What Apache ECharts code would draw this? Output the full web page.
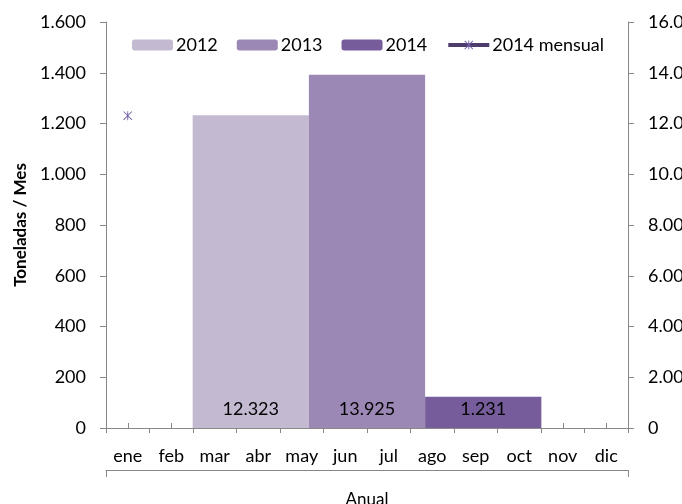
<!DOCTYPE html>
<html>
<head>
<meta charset="utf-8">
<script src="https://cdn.jsdelivr.net/npm/echarts@6/dist/echarts.min.js"></script>
<style>
  html, body { margin: 0; padding: 0; background: #fff; }
  #chart { width: 682px; height: 504px; }
</style>
</head>
<body>
<div id="chart"></div>
<script>
// datos
const meses = ['ene', 'feb', 'mar', 'abr', 'may', 'jun', 'jul', 'ago', 'sep', 'oct', 'nov', 'dic'];
const anual = ['Anual'];
const total2012 = [12323];
const total2013 = [13925];
const total2014 = [1231];
const mensual2014 = [1231, null, null, null, null, null, null, null, null, null, null, null];

const font = 'Lato';
const gris = '#888888';

// separador de miles con punto
function fmt(v) {
  return String(v).replace(/\B(?=(\d{3})+(?!\d))/g, '.');
}

const asterisco = 'path://M9,0 L11,0 L11,20 L9,20 Z M0,1.4 L1.4,0 L20,18.6 L18.6,20 Z M18.6,0 L20,1.4 L1.4,20 L0,18.6 Z';

const chart = echarts.init(document.getElementById('chart'), null, { renderer: 'canvas' });

const barLabel = {
  show: true,
  position: 'insideBottom',
  distance: 10,
  color: '#000',
  fontFamily: font,
  fontSize: 18,
  formatter: p => fmt(p.value)
};

const option = {
  animation: false,
  textStyle: { fontFamily: font },
  legend: {
    left: 127,
    top: 31,
    itemWidth: 41,
    itemHeight: 11,
    itemGap: 19,
    lineStyle: { width: 4 },
    textStyle: { fontFamily: font, fontSize: 18, color: '#000', padding: [0, 0, 0, -2] },
    data: ['2012', '2013', '2014', '2014 mensual']
  },
  grid: {
    left: 106,
    right: 54,
    top: 22,
    bottom: 76,
    outerBoundsMode: 'none'
  },
  xAxis: [
    {
      type: 'category',
      data: meses,
      position: 'bottom',
      axisLine: { lineStyle: { color: gris, width: 1 } },
      axisTick: { show: true, length: 5, lineStyle: { color: gris } },
      axisLabel: { color: '#000', fontFamily: font, fontSize: 18, margin: 19, interval: 0 },
      splitLine: { show: false }
    },
    {
      type: 'category',
      data: anual,
      position: 'bottom',
      offset: 42,
      axisLine: { onZero: false, lineStyle: { color: gris, width: 1 } },
      axisTick: { show: true, length: 7, lineStyle: { color: gris } },
      axisLabel: { color: '#000', fontFamily: font, fontSize: 17, margin: 21 },
      splitLine: { show: false }
    },
    {
      // marcas menores en el centro de cada mes
      type: 'category',
      data: meses,
      position: 'bottom',
      axisLine: { show: false },
      axisTick: { show: true, inside: true, alignWithLabel: true, length: 5, lineStyle: { color: gris } },
      axisLabel: { show: false },
      splitLine: { show: false }
    }
  ],
  yAxis: [
    {
      type: 'value',
      min: 0,
      max: 1600,
      interval: 200,
      name: 'Toneladas / Mes',
      nameLocation: 'middle',
      nameGap: 76,
      nameTextStyle: { fontFamily: font, fontSize: 17, fontWeight: 'bold', color: '#000' },
      axisLine: { show: true, lineStyle: { color: gris } },
      axisTick: { show: true, length: 6, lineStyle: { color: gris } },
      axisLabel: { color: '#000', fontFamily: font, fontSize: 18, margin: 20, formatter: fmt },
      splitLine: { show: false }
    },
    {
      type: 'value',
      min: 0,
      max: 16000,
      interval: 2000,
      position: 'right',
      axisLine: { show: true, lineStyle: { color: gris } },
      axisTick: { show: true, length: 6, lineStyle: { color: gris } },
      axisLabel: { color: '#000', fontFamily: font, fontSize: 18, margin: 20, formatter: fmt },
      splitLine: { show: false }
    }
  ],
  series: [
    {
      name: '2012',
      type: 'bar',
      xAxisIndex: 1,
      yAxisIndex: 1,
      barGap: '0%',
      barCategoryGap: '33.2%',
      itemStyle: { color: '#C3BAD2' },
      label: barLabel,
      data: total2012
    },
    {
      name: '2013',
      type: 'bar',
      xAxisIndex: 1,
      yAxisIndex: 1,
      barGap: '0%',
      barCategoryGap: '33.2%',
      itemStyle: { color: '#9B88B5' },
      label: barLabel,
      data: total2013
    },
    {
      name: '2014',
      type: 'bar',
      xAxisIndex: 1,
      yAxisIndex: 1,
      barGap: '0%',
      barCategoryGap: '33.2%',
      itemStyle: { color: '#765C9B' },
      label: barLabel,
      data: total2014
    },
    {
      name: '2014 mensual',
      type: 'line',
      xAxisIndex: 0,
      yAxisIndex: 0,
      symbol: asterisco,
      symbolSize: 9,
      showAllSymbol: true,
      connectNulls: false,
      itemStyle: { color: '#7262A8' },
      lineStyle: { color: '#4E3C6C', width: 4 },
      data: mensual2014
    }
  ]
};

chart.setOption(option);
</script>
</body>
</html>
